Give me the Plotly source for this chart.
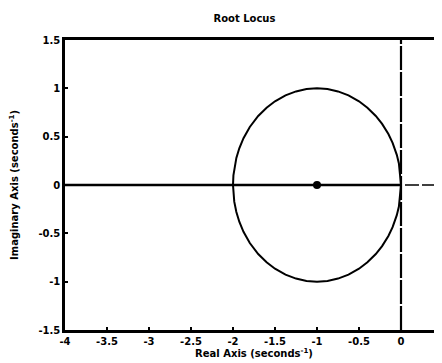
import numpy as np
import plotly.graph_objects as go

# open-loop system: (s + 1) / s^2
num = [1, 1]
den = [1, 0, 0]
gains = [0, 0.05, 0.1, 0.2, 0.3, 0.45, 0.6, 0.8, 1.0, 1.25, 1.5, 1.75, 2.0, 2.25, 2.5,
         2.75, 3.0, 3.2, 3.4, 3.6, 3.75, 3.85, 3.92, 3.97, 3.99, 4.0]
gains_real = [4.0, 4.2, 4.5, 4.8, 5.0, 5.2, 16/3]
zeros_x = [-1]
zeros_y = [0]

xticks = [-4, -3.5, -3, -2.5, -2, -1.5, -1, -0.5, 0, 0.5]
xticklabels = ["-4", "-3.5", "-3", "-2.5", "-2", "-1.5", "-1", "-0.5", "0", "0.5"]
yticks = [-1.5, -1, -0.5, 0, 0.5, 1, 1.5]
yticklabels = ["-1.5", "-1", "-0.5", "0", "0.5", "1", "1.5"]

def roots_for(k):
    p = np.polyadd(den, k * np.array(num))
    return np.roots(p)

upper, lower = [], []
for k in gains:
    r = roots_for(k)
    r = sorted(r, key=lambda z: z.imag)
    lower.append(r[0]); upper.append(r[-1])
path = upper + lower[::-1]
cx = [z.real for z in path]
cy = [z.imag for z in path]

left_branch = [float(np.sort(roots_for(k).real)[0]) for k in gains_real]
right_branch = [float(np.sort(roots_for(k).real)[-1]) for k in gains_real]

fig = go.Figure()
fig.add_trace(go.Scatter(x=[-4, 0.5], y=[0, 0], mode="lines",
                         line=dict(color="black", width=1.6, dash="14px,3px"), hoverinfo="skip"))
fig.add_trace(go.Scatter(x=[0, 0], y=[-1.5, 1.5], mode="lines",
                         line=dict(color="black", width=2.2, dash="24px,2px"), hoverinfo="skip"))
fig.add_trace(go.Scatter(x=cx, y=cy, mode="lines", line=dict(color="black", width=2), hoverinfo="skip"))
fig.add_trace(go.Scatter(x=left_branch, y=[0]*len(left_branch), mode="lines",
                         line=dict(color="black", width=2.5), hoverinfo="skip"))
fig.add_trace(go.Scatter(x=right_branch + [0], y=[0]*(len(right_branch)+1), mode="lines",
                         line=dict(color="black", width=2.5), hoverinfo="skip"))
fig.add_trace(go.Scatter(x=zeros_x, y=zeros_y, mode="markers",
                         marker=dict(color="black", size=8, symbol="circle"), hoverinfo="skip"))

font = dict(family="DejaVu Sans, sans-serif", size=10, color="black", weight="bold")
axis_common = dict(showgrid=False, zeroline=False, showline=True, linecolor="black", linewidth=2.5,
                   mirror=True, ticks="inside", ticklen=3, tickcolor="black", tickwidth=1.5,
                   tickfont=font, automargin=False)
fig.update_layout(
    width=442, height=363,
    margin=dict(l=57, r=7, t=32, b=41),
    paper_bgcolor="white", plot_bgcolor="white",
    showlegend=False,
    title=dict(text="Root Locus", x=0.535, xanchor="center", y=0.97, yanchor="middle",
               font=dict(family="DejaVu Sans, sans-serif", size=10, color="black", weight="bold")),
    xaxis=dict(range=[-4, 0.5], tickvals=xticks, ticktext=xticklabels,
               title=dict(text="Real Axis (seconds<sup>-1</sup>)", font=font, standoff=2), **axis_common),
    yaxis=dict(range=[-1.5, 1.5], tickvals=yticks, ticktext=yticklabels,
               title=dict(text="Imaginary Axis (seconds<sup>-1</sup>)", font=font, standoff=18), **axis_common),
)
fig.write_html("out.html")
